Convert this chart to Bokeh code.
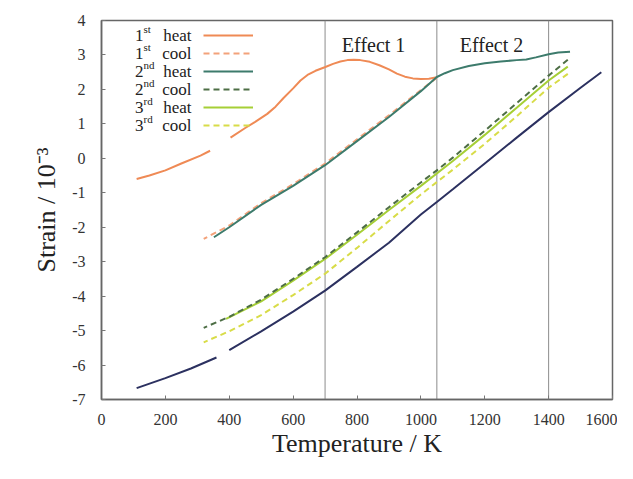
from bokeh.plotting import figure
from bokeh.models import Span, Label, Legend, LegendItem, FixedTicker, Range1d, PrintfTickFormatter
from bokeh.embed import file_html
from bokeh.resources import INLINE

nan = float("nan")

# ---------------- data ----------------
heat1_T = [110, 150, 200, 250, 310, 340, nan, 404, 450, 480, 519, 545, 570, 600, 623, 645, 670, 701, 725,
           748, 770, 790, 810, 840, 870, 900, 925, 950, 975, 1000, 1025, 1050]
heat1_S = [-0.6, -0.5, -0.35, -0.15, 0.08, 0.22, nan, 0.6, 0.88, 1.05, 1.29, 1.5, 1.75, 2.03, 2.26, 2.42, 2.54, 2.65, 2.74,
           2.81, 2.85, 2.86, 2.85, 2.8, 2.7, 2.58, 2.46, 2.37, 2.32, 2.3, 2.31, 2.35]

cool1_T = [1050, 1000, 900, 800, 700, 600, 500, 400, 320]
cool1_S = [2.34, 1.98, 1.25, 0.55, -0.15, -0.75, -1.3, -1.95, -2.34]

heat2_T = [352, 400, 500, 600, 700, 800, 900, 1000, 1050, 1075, 1100, 1150, 1200, 1250, 1300, 1330, 1360, 1400, 1430, 1467]
heat2_S = [-2.29, -2.0, -1.35, -0.8, -0.2, 0.5, 1.2, 1.95, 2.36, 2.47, 2.56, 2.68, 2.76, 2.81, 2.85, 2.87, 2.93, 3.02, 3.07, 3.09]

cool2_T = [1460, 1400, 1300, 1200, 1100, 1050, 1000, 900, 800, 700, 600, 500, 400, 320]
cool2_S = [2.86, 2.4, 1.6, 0.8, 0.02, -0.35, -0.7, -1.42, -2.15, -2.87, -3.5, -4.1, -4.6, -4.92]

heat3_T = [390, 500, 600, 700, 800, 900, 1000, 1100, 1200, 1300, 1400, 1460]
heat3_S = [-4.66, -4.15, -3.55, -2.92, -2.22, -1.5, -0.8, -0.08, 0.68, 1.47, 2.26, 2.66]

cool3_T = [1460, 1400, 1300, 1200, 1100, 1050, 1000, 900, 800, 700, 600, 500, 400, 320]
cool3_S = [2.45, 2.05, 1.22, 0.42, -0.33, -0.69, -1.05, -1.82, -2.6, -3.35, -3.97, -4.55, -5.02, -5.34]

base_T = [110, 200, 280, 360, nan, 400, 500, 600, 700, 800, 900, 1000, 1050, 1100, 1200, 1300, 1400, 1500, 1565]
base_S = [-6.67, -6.38, -6.1, -5.78, nan, -5.57, -5.02, -4.45, -3.84, -3.15, -2.45, -1.63, -1.27, -0.9, -0.15, 0.6, 1.34, 2.05, 2.5]

effect_bounds = [700, 1050, 1400]
effect_labels = ["Effect 1", "Effect 2"]
effect_label_T = [852, 1221]
effect_label_S = 3.3

x_ticks = list(range(0, 1601, 200))
y_ticks = list(range(-7, 5))

legend_nums = ["1", "1", "2", "2", "3", "3"]
legend_sups = ["st", "st", "nd", "nd", "rd", "rd"]
legend_words = ["heat", "cool", "heat", "cool", "heat", "cool"]

SERIF = "Liberation Serif"

# ---------------- figure ----------------
W, H = 617, 463
p = figure(width=W, height=H, output_backend="svg", toolbar_location=None,
           x_range=Range1d(0, 1600), y_range=Range1d(-7, 4),
           min_border_left=101, min_border_right=5, min_border_top=20, min_border_bottom=64)
p.background_fill_color = "white"
p.border_fill_color = "white"
p.grid.visible = False
p.outline_line_color = "#666666"
p.outline_line_width = 1.5

for ax in (p.xaxis, p.yaxis):
    ax.major_tick_in = 4
    ax.major_tick_out = 0
    ax.minor_tick_in = 0
    ax.minor_tick_out = 0
    ax.axis_line_color = "#666666"
    ax.axis_line_width = 1.5
    ax.major_tick_line_color = "#777777"
    ax.major_label_text_font = SERIF
    ax.major_label_text_font_size = "16px"
    ax.major_label_text_color = "#333333"
    ax.axis_label_text_font = SERIF
    ax.axis_label_text_font_size = "26px"
    ax.axis_label_text_font_style = "normal"
    ax.axis_label_text_color = "#222222"
    ax.formatter = PrintfTickFormatter(format="%d")

p.xaxis.ticker = FixedTicker(ticks=x_ticks)
p.yaxis.ticker = FixedTicker(ticks=y_ticks)
p.xaxis.axis_label = "Temperature / K"
p.yaxis.axis_label = "Strain / 10\u207b\u00b3"
p.xaxis.major_label_standoff = 14
p.yaxis.major_label_standoff = 16
p.xaxis.axis_label_standoff = 1
p.yaxis.axis_label_standoff = 8

for t in effect_bounds:
    p.add_layout(Span(location=t, dimension="height", line_color="#8c8c8c", line_width=1, level="underlay"))

r_base = p.line(base_T, base_S, line_color="#2c3160", line_width=2)
r_c3 = p.line(cool3_T, cool3_S, line_color="#d8dc48", line_width=2, line_dash="6 4")
r_h3 = p.line(heat3_T, heat3_S, line_color="#a6cf36", line_width=2)
r_c2 = p.line(cool2_T, cool2_S, line_color="#4d6e45", line_width=2, line_dash="6 4")
r_h1 = p.line(heat1_T, heat1_S, line_color="#ef8a55", line_width=2)
r_c1 = p.line(cool1_T, cool1_S, line_color="#f3a27a", line_width=2, line_dash="6 4")
r_h2 = p.line(heat2_T, heat2_S, line_color="#3d7b6c", line_width=2)

for txt, t in zip(effect_labels, effect_label_T):
    p.add_layout(Label(x=t, y=effect_label_S, text=txt, text_align="center", text_baseline="middle",
                       text_font=SERIF, text_font_size="20px", text_color="#222222"))

# legend glyph samples (labels are drawn separately on the left)
renderers = [r_h1, r_c1, r_h2, r_c2, r_h3, r_c3]
items = [LegendItem(label=" ", renderers=[r]) for r in renderers]
leg = Legend(items=items, location=(102, 265), glyph_width=50, glyph_height=18, spacing=0,
             padding=0, margin=0, label_width=0, label_height=0, label_standoff=0,
             label_text_font_size="1px", border_line_alpha=0, background_fill_alpha=0)
p.add_layout(leg)

# pixel -> data helpers for placing legend text
FL, FR, FT, FB = 101.0, 612.0, 20.0, 399.0
def tx(px):
    return (px - FL) / (FR - FL) * 1600.0
def sy(py):
    return 4.0 - (py - FT) / (FB - FT) * 11.0

for i in range(6):
    cy = 35 + 18 * i
    p.add_layout(Label(x=tx(143), y=sy(cy), text=legend_nums[i], text_align="right", text_baseline="middle",
                       text_font=SERIF, text_font_size="17px", text_color="#222222"))
    p.add_layout(Label(x=tx(143), y=sy(cy - 7), text=legend_sups[i], text_align="left", text_baseline="middle",
                       text_font=SERIF, text_font_size="11px", text_color="#222222"))
    p.add_layout(Label(x=tx(191), y=sy(cy), text=legend_words[i], text_align="right", text_baseline="middle",
                       text_font=SERIF, text_font_size="17px", text_color="#222222"))

open("out.html", "w").write(file_html(p, INLINE))
